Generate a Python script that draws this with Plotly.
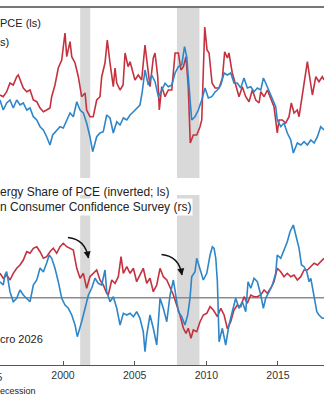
import plotly.graph_objects as go

# ---------------------------------------------------------------------------
# Data (decimal years, index units)
# ---------------------------------------------------------------------------
top_red_x = [1995.60, 1995.83, 1996.07, 1996.30, 1996.53, 1996.77, 1996.88, 1997.00, 1997.23, 1997.47,
             1997.70, 1997.93, 1998.17, 1998.40, 1998.63, 1998.86, 1999.09, 1999.21, 1999.44, 1999.67,
             1999.91, 2000.14, 2000.26, 2000.49, 2000.61, 2000.84, 2001.07, 2001.30, 2001.54, 2001.65,
             2001.88, 2002.11, 2002.35, 2002.58, 2002.70, 2002.93, 2003.09, 2003.28, 2003.51, 2003.63,
             2003.75, 2003.98, 2004.19, 2004.33, 2004.54, 2004.68, 2005.02, 2005.25, 2005.49, 2005.72,
             2005.91, 2006.07, 2006.30, 2006.42, 2006.61, 2006.72, 2006.89, 2007.12, 2007.35, 2007.59,
             2007.82, 2008.05, 2008.23, 2008.40, 2008.58, 2008.74, 2008.88, 2009.09, 2009.33, 2009.56,
             2009.68, 2009.79, 2009.89, 2010.05, 2010.19, 2010.40, 2010.61, 2010.89, 2011.12, 2011.28,
             2011.47, 2011.58, 2011.81, 2012.05, 2012.28, 2012.51, 2012.75, 2012.98, 2013.21, 2013.45,
             2013.68, 2013.80, 2014.03, 2014.26, 2014.49, 2014.72, 2014.95, 2015.07, 2015.30, 2015.54,
             2015.77, 2015.93, 2016.12, 2016.35, 2016.47, 2016.71, 2016.87, 2017.05, 2017.22, 2017.40,
             2017.64, 2017.86, 2018.09, 2018.21]
top_red_y = [8.30, 8.13, 8.63, 9.50, 9.30, 10.13, 10.30, 9.80, 9.00, 8.63,
             8.80, 7.80, 7.63, 7.00, 6.63, 6.80, 7.00, 8.13, 9.30, 11.00,
             11.80, 14.50, 12.13, 13.63, 12.13, 11.50, 10.13, 8.13, 8.50, 6.80,
             6.13, 6.13, 7.80, 8.13, 10.13, 11.50, 13.80, 11.50, 9.13, 11.00,
             9.50, 8.80, 9.30, 12.50, 11.13, 11.63, 9.80, 10.30, 9.80, 13.30,
             11.00, 9.13, 12.00, 12.50, 10.13, 6.80, 9.13, 8.13, 8.80, 8.80,
             12.50, 12.50, 10.80, 11.13, 12.13, 9.13, 3.50, 4.30, 4.30, 5.13,
             5.80, 10.80, 15.10, 12.80, 12.50, 9.50, 9.00, 9.00, 10.00, 12.63,
             12.00, 12.50, 10.50, 9.30, 8.13, 9.13, 8.13, 7.63, 8.80, 7.80,
             7.50, 8.63, 8.13, 8.80, 8.00, 7.13, 4.50, 5.80, 5.80, 5.50,
             6.13, 7.50, 6.50, 6.80, 6.13, 8.50, 9.80, 11.63, 10.00, 8.30,
             10.13, 9.63, 10.13, 9.80]

top_blue_x = [1995.60, 1995.83, 1996.07, 1996.30, 1996.53, 1996.77, 1997.00, 1997.23, 1997.47, 1997.70,
              1997.93, 1998.17, 1998.40, 1998.63, 1998.86, 1999.09, 1999.28, 1999.56, 1999.79, 2000.02,
              2000.26, 2000.49, 2000.72, 2000.96, 2001.19, 2001.42, 2001.65, 2001.88, 2002.07, 2002.35,
              2002.58, 2002.81, 2003.05, 2003.28, 2003.51, 2003.75, 2003.98, 2004.21, 2004.45, 2004.68,
              2004.91, 2005.14, 2005.37, 2005.53, 2005.72, 2005.95, 2006.19, 2006.42, 2006.65, 2006.89,
              2007.12, 2007.35, 2007.59, 2007.82, 2008.05, 2008.28, 2008.48, 2008.63, 2008.86, 2008.98,
              2009.21, 2009.44, 2009.68, 2009.91, 2010.14, 2010.38, 2010.61, 2010.77, 2011.01, 2011.24,
              2011.47, 2011.70, 2011.93, 2012.16, 2012.40, 2012.63, 2012.86, 2013.10, 2013.33, 2013.56,
              2013.80, 2013.98, 2014.14, 2014.38, 2014.61, 2014.84, 2014.95, 2015.19, 2015.42, 2015.65,
              2015.89, 2016.07, 2016.35, 2016.59, 2016.82, 2017.05, 2017.29, 2017.52, 2017.75, 2017.98,
              2018.21]
top_blue_y = [7.80, 6.80, 7.50, 7.80, 7.00, 7.80, 7.30, 7.50, 6.80, 7.00,
              6.13, 5.80, 5.13, 4.80, 4.13, 3.30, 4.30, 4.80, 5.13, 5.00,
              5.80, 6.50, 6.13, 7.63, 6.80, 6.50, 5.50, 4.13, 2.63, 4.13,
              4.50, 4.63, 6.30, 6.00, 4.50, 5.63, 5.30, 6.00, 5.80, 6.30,
              6.63, 7.00, 7.30, 8.63, 10.80, 9.30, 10.30, 9.63, 8.13, 8.80,
              9.47, 9.13, 9.30, 10.50, 11.13, 11.30, 13.13, 12.13, 7.80, 5.80,
              6.13, 6.80, 7.80, 9.00, 8.00, 8.13, 8.60, 8.80, 9.30, 10.50,
              10.30, 10.50, 9.50, 9.50, 9.00, 10.00, 9.00, 9.13, 8.63, 9.00,
              8.80, 10.00, 9.50, 8.63, 8.00, 7.13, 5.80, 5.13, 5.50, 4.50,
              3.80, 2.50, 3.50, 3.30, 3.63, 3.30, 3.80, 3.50, 4.13, 5.13,
              4.80]

# Energy share of PCE (inverted; ls)
bot_red_x = [1995.60, 1995.83, 1996.07, 1996.30, 1996.53, 1996.77, 1997.00, 1997.23, 1997.47, 1997.70,
             1997.93, 1998.17, 1998.40, 1998.63, 1998.86, 1999.09, 1999.32, 1999.56, 1999.79, 2000.02,
             2000.26, 2000.49, 2000.72, 2000.96, 2001.19, 2001.42, 2001.65, 2001.88, 2002.11, 2002.35,
             2002.58, 2002.81, 2003.05, 2003.16, 2003.40, 2003.63, 2003.86, 2004.05, 2004.21, 2004.45,
             2004.68, 2004.91, 2005.14, 2005.37, 2005.60, 2005.84, 2006.07, 2006.30, 2006.54, 2006.77,
             2007.00, 2007.24, 2007.47, 2007.70, 2007.93, 2008.16, 2008.40, 2008.58, 2008.74, 2008.93,
             2009.09, 2009.33, 2009.56, 2009.79, 2010.03, 2010.26, 2010.49, 2010.77, 2011.01, 2011.24,
             2011.47, 2011.70, 2011.93, 2012.16, 2012.40, 2012.63, 2012.86, 2013.10, 2013.33, 2013.56,
             2013.80, 2014.03, 2014.26, 2014.49, 2014.72, 2014.95, 2015.19, 2015.42, 2015.65, 2015.89,
             2016.12, 2016.35, 2016.59, 2016.82, 2017.05, 2017.29, 2017.52, 2017.75, 2017.98, 2018.21]
bot_red_y = [2.44, 1.94, 2.27, 1.77, 2.44, 2.94, 3.27, 3.77, 4.60, 4.44,
             4.94, 5.10, 4.60, 3.94, 4.10, 4.60, 4.94, 4.44, 5.10, 5.44,
             5.10, 4.94, 4.77, 2.94, 1.94, 2.44, 0.94, 2.10, 2.44, 2.77,
             1.77, 1.27, 0.44, 0.27, 1.77, 1.44, 2.10, 4.10, 2.44, 3.10,
             2.44, 2.94, 1.60, 2.27, 2.94, 1.44, 1.94, 0.60, 1.27, 2.94,
             2.10, 1.77, 1.10, 0.27, -0.73, -1.73, -3.06, -3.56, -3.06, -4.06,
             -3.23, -3.40, -2.40, -1.73, -1.56, -0.90, -1.23, -1.90, -1.06, -1.73,
             -3.10, -2.40, -1.23, -0.73, -0.90, 0.10, -0.56, 0.27, 0.10, 0.10,
             0.27, 0.77, 0.44, 0.94, 1.60, 2.94, 2.60, 2.10, 2.44, 2.10,
             2.27, 1.77, 2.10, 2.77, 2.77, 3.10, 3.44, 3.27, 3.60, 3.94]

# Consumer confidence survey (rs)
bot_blue_x = [1995.60, 1995.83, 1995.95, 1996.07, 1996.30, 1996.53, 1996.77, 1997.00, 1997.23, 1997.47,
              1997.70, 1997.93, 1998.17, 1998.40, 1998.63, 1998.86, 1999.04, 1999.21, 1999.44, 1999.67,
              1999.91, 2000.14, 2000.37, 2000.61, 2000.84, 2001.00, 2001.14, 2001.30, 2001.54, 2001.77,
              2002.00, 2002.23, 2002.46, 2002.70, 2002.93, 2003.05, 2003.28, 2003.51, 2003.75, 2003.98,
              2004.21, 2004.45, 2004.68, 2004.91, 2005.14, 2005.37, 2005.60, 2005.72, 2005.84, 2006.07,
              2006.30, 2006.54, 2006.77, 2007.00, 2007.24, 2007.47, 2007.70, 2007.86, 2008.05, 2008.28,
              2008.51, 2008.70, 2008.86, 2008.98, 2009.21, 2009.33, 2009.56, 2009.79, 2010.03, 2010.26,
              2010.42, 2010.54, 2010.66, 2010.77, 2010.89, 2011.12, 2011.35, 2011.58, 2011.81, 2012.05,
              2012.28, 2012.51, 2012.75, 2012.91, 2013.10, 2013.33, 2013.56, 2013.80, 2013.98, 2014.14,
              2014.38, 2014.61, 2014.84, 2014.95, 2015.19, 2015.42, 2015.65, 2015.84, 2016.07, 2016.24,
              2016.47, 2016.64, 2016.82, 2017.01, 2017.17, 2017.29, 2017.40, 2017.52, 2017.71, 2017.86,
              2018.09, 2018.21]
bot_blue_y = [1.60, 1.27, 2.27, 2.60, 0.60, -0.40, -0.06, 0.77, 0.27, -0.06,
              -0.40, 1.27, 1.77, 2.97, 2.57, 3.47, 4.27, 3.94, 2.94, 1.60,
              -0.06, -0.73, -1.06, -1.73, -2.73, -3.90, -3.06, -2.40, -1.06, 0.27,
              0.94, 1.94, 1.44, 1.27, 2.77, 0.60, -0.40, 0.10, -1.06, -2.73,
              -1.56, -1.73, -1.56, -1.90, -1.40, -2.06, -3.40, -5.40, -3.73, -1.73,
              -3.06, -4.73, -0.06, -1.06, -2.40, 0.27, 1.77, 0.10, -1.40, -1.90,
              -2.73, -1.73, -0.06, 2.10, 2.60, 3.94, 2.94, 1.77, 2.44, 4.27,
              5.10, 4.94, 3.94, 1.60, -4.40, -3.06, -4.73, -2.73, -1.40, -0.06,
              -1.06, -0.40, -1.40, 1.60, 0.94, 1.94, 1.60, 0.27, -1.06, -0.06,
              0.60, 1.27, 2.44, 4.27, 3.94, 4.77, 5.60, 6.60, 7.27, 6.27,
              4.94, 3.27, 3.10, 2.60, 1.60, 1.94, 0.94, -0.06, -1.40, -1.73,
              -2.06, -2.06]

# NBER recessions
rec_start = [2001.20, 2007.95]
rec_end = [2001.90, 2009.52]

x_ticks = [2000, 2005, 2010, 2015]

# ---------------------------------------------------------------------------
# Layout helpers (pixel -> paper coordinates for a 324x400 canvas)
# ---------------------------------------------------------------------------
W, H = 324, 400


def px(xp):
    return xp / W


def py(yp):
    return 1 - yp / H


RED = "#C4323F"
BLUE = "#2E86C9"
SHADE = "#D9D9D9"
TEXT = "#222222"
FONT = "Liberation Sans, Arial, sans-serif"

fig = go.Figure()

fig.add_trace(go.Scatter(x=top_red_x, y=top_red_y, mode="lines",
                         line=dict(color=RED, width=1.6), xaxis="x", yaxis="y"))
fig.add_trace(go.Scatter(x=top_blue_x, y=top_blue_y, mode="lines",
                         line=dict(color=BLUE, width=1.6), xaxis="x", yaxis="y"))
fig.add_trace(go.Scatter(x=bot_red_x, y=bot_red_y, mode="lines",
                         line=dict(color=RED, width=1.6), xaxis="x2", yaxis="y2"))
fig.add_trace(go.Scatter(x=bot_blue_x, y=bot_blue_y, mode="lines",
                         line=dict(color=BLUE, width=1.6), xaxis="x2", yaxis="y2"))

shapes = []
# recession bands in both panels
for a, b in zip(rec_start, rec_end):
    for xr, yr in (("x", "y domain"), ("x2", "y2 domain")):
        shapes.append(dict(type="rect", xref=xr, yref=yr, x0=a, x1=b, y0=0, y1=1,
                           fillcolor=SHADE, line=dict(width=0), layer="below"))
# zero line in the lower panel
shapes.append(dict(type="line", xref="paper", yref="y2", x0=0, x1=1, y0=0, y1=0,
                   line=dict(color="#8C8C8C", width=1.5), layer="below"))
# frame line across the top
shapes.append(dict(type="line", xref="paper", yref="paper", x0=0, x1=1,
                   y0=py(7), y1=py(7), line=dict(color="#4A4A4A", width=1.5)))
# curved arrows marking the turning points
for (x0, y0), (cx, cy), (x1, y1) in (((68, 237.5), (85, 239), (88.5, 258)),
                                     ((161.5, 254.5), (179, 256), (182, 275))):
    shapes.append(dict(type="path", xref="paper", yref="paper",
                       path=f"M {px(x0)},{py(y0)} Q {px(cx)},{py(cy)} {px(x1)},{py(y1)}",
                       line=dict(color="#111111", width=1.4)))

annotations = []
for (x1, y1), (dx, dy) in (((88.5, 258.5), (-1.6, -8)), ((182, 275.5), (-1.4, -8))):
    annotations.append(dict(xref="paper", yref="paper", x=px(x1), y=py(y1), text="",
                            showarrow=True, ax=dx, ay=dy, arrowhead=2, arrowsize=1,
                            arrowwidth=1.4, arrowcolor="#111111", standoff=0))


def label(text, xp, yp, size, **kw):
    annotations.append(dict(xref="paper", yref="paper", x=px(xp), y=py(yp), text=text,
                            showarrow=False, xanchor="left", yanchor="middle",
                            font=dict(family=FONT, size=size, color=TEXT), **kw))


label("PCE (ls)", -2, 23.5, 11)
label("s)", -2, 42.5, 11)
label("ergy Share of PCE (inverted; ls)", -2, 191.5, 12)
label("n Consumer Confidence Survey (rs)", -2, 207, 12, bgcolor="white")
label("cro 2026", -2, 339, 11)
label("ecession", -2, 391, 9)
annotations.append(dict(xref="paper", yref="paper", x=px(-8.6), y=py(377), text="1995",
                        showarrow=False, xanchor="center", yanchor="middle",
                        font=dict(family=FONT, size=10.5, color="#333333")))

fig.update_layout(
    width=W, height=H,
    margin=dict(l=0, r=0, t=0, b=0),
    paper_bgcolor="white", plot_bgcolor="white",
    showlegend=False,
    shapes=shapes, annotations=annotations,
    xaxis=dict(domain=[0, 1], range=[1995.604, 2018.21], anchor="y", matches="x2",
               visible=False),
    yaxis=dict(domain=[py(178), py(8)], range=[0, 17], visible=False),
    xaxis2=dict(domain=[0, 1], range=[1995.604, 2018.21], anchor="y2",
                tickvals=x_ticks, ticktext=[str(t) for t in x_ticks],
                ticks="inside", ticklen=4, tickwidth=1, tickcolor="#555555",
                showline=True, linecolor="#555555", linewidth=1.3,
                showgrid=False, zeroline=False,
                tickfont=dict(family=FONT, size=10.5, color="#333333")),
    yaxis2=dict(domain=[py(365), py(195)], range=[-6.73, 10.27], visible=False),
)

fig.write_html("out.html")
